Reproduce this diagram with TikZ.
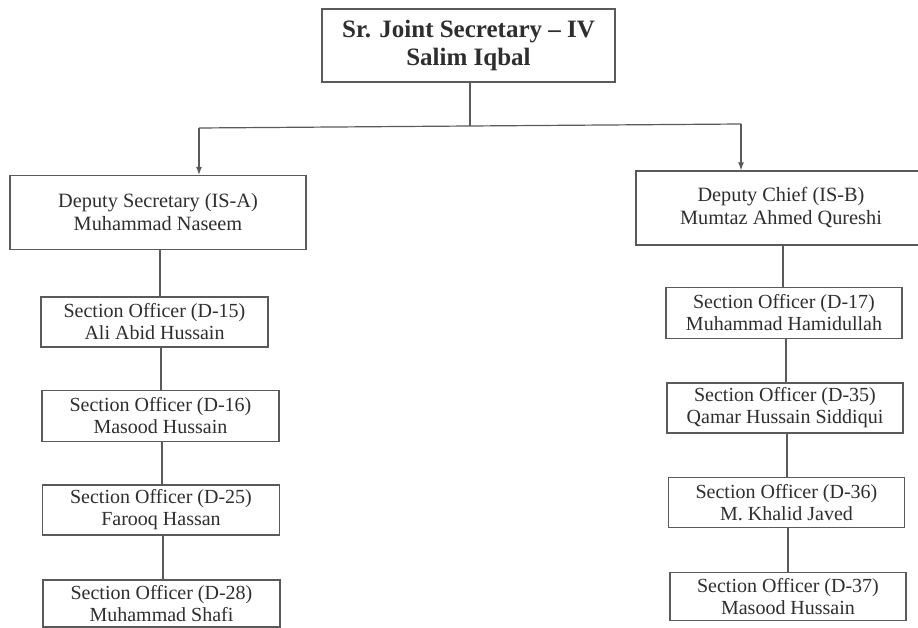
\documentclass[tikz,border=0pt]{standalone}
\usepackage{fontspec}
\setmainfont{Liberation Serif}
\usetikzlibrary{arrows.meta}
\definecolor{ink}{HTML}{2E2E2E}
\definecolor{edge}{HTML}{5A5A5A}
\begin{document}
\begin{tikzpicture}[x=1pt,y=-1pt,
  box/.style={draw=edge, line width=1.3pt, rectangle, inner sep=0pt, align=center, text=ink},
  sofont/.style={font=\fontsize{20}{22}\selectfont},
  dfont/.style={font=\fontsize{20.3}{23}\selectfont},
  conn/.style={draw=edge, line width=1.2pt},
  arr/.style={conn, -{Latex[length=8pt,width=6pt]}}]
\useasboundingbox (0,0) rectangle (918,628);
\clip (0,0) rectangle (918,628);
\fill[white] (0,0) rectangle (918,628);
% top
\node[box, minimum width=293pt, minimum height=73pt, font=\bfseries\fontsize{25}{28}\selectfont] (top) at (468.5,45.5) {Sr. Joint Secretary -- IV\\Salim Iqbal};
% deputies
\node[box, dfont, minimum width=296pt, minimum height=74pt] (dl) at (158,212.5) {Deputy Secretary (IS-A)\\Muhammad Naseem};
\node[box, dfont, minimum width=290pt, minimum height=74pt] (dr) at (781,208) {Deputy Chief (IS-B)\\Mumtaz Ahmed Qureshi};
% left column
\node[box, sofont, minimum width=227pt, minimum height=50pt] (l1) at (154.5,322) {Section Officer (D-15)\\Ali Abid Hussain};
\node[box, sofont, minimum width=237pt, minimum height=51pt] (l2) at (160.5,416) {Section Officer (D-16)\\Masood Hussain};
\node[box, sofont, minimum width=237pt, minimum height=50pt] (l3) at (161,510) {Section Officer (D-25)\\Farooq Hassan};
\node[box, sofont, minimum width=237pt, minimum height=47pt] (l4) at (161.5,603.5) {Section Officer (D-28)\\Muhammad Shafi};
% right column
\node[box, sofont, minimum width=236pt, minimum height=51pt] (r1) at (784,313) {Section Officer (D-17)\\Muhammad Hamidullah};
\node[box, sofont, minimum width=236pt, minimum height=50pt] (r2) at (785,408) {Section Officer (D-35)\\Qamar Hussain Siddiqui};
\node[box, sofont, minimum width=236pt, minimum height=50pt] (r3) at (786.5,502.5) {Section Officer (D-36)\\M. Khalid Javed};
\node[box, sofont, minimum width=236pt, minimum height=48pt] (r4) at (788,596.5) {Section Officer (D-37)\\Masood Hussain};
% connectors
\coordinate (hl) at (470,126);
\coordinate (hlL) at (199,128);
\coordinate (hlR) at (741,124);
\draw[conn] (top.south -| hl) -- (hl);
\draw[conn] (hlL) -- (hl) -- (hlR);
\draw[arr] (hlL) -- (hlL |- dl.north);
\draw[arr] (hlR) -- (hlR |- dr.north);
\draw[conn] (l1.north -| 160,0) -- (dl.south -| 160,0);
\draw[conn] (l2.north -| 161,0) -- (l1.south -| 161,0);
\draw[conn] (l3.north -| 162,0) -- (l2.south -| 162,0);
\draw[conn] (l4.north -| 163,0) -- (l3.south -| 163,0);
\draw[conn] (r1.north -| 783,0) -- (dr.south -| 783,0);
\draw[conn] (r2.north -| 786,0) -- (r1.south -| 786,0);
\draw[conn] (r3.north -| 787,0) -- (r2.south -| 787,0);
\draw[conn] (r4.north -| 788,0) -- (r3.south -| 788,0);
\end{tikzpicture}
\end{document}
